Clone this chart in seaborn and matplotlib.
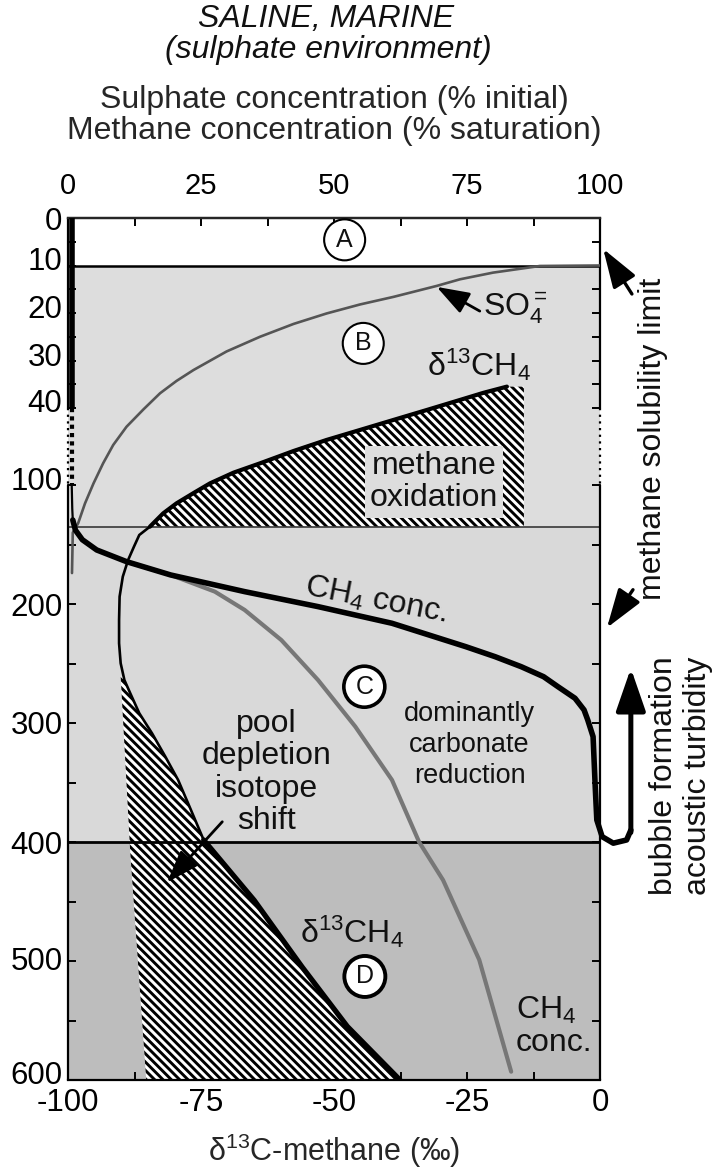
import numpy as np
import matplotlib
matplotlib.use("Agg")
import matplotlib.pyplot as plt
import matplotlib.transforms as mtransforms
import seaborn as sns

W, H = 715, 1169

# ---- depth axis: expanded 0-40 m, compressed 40-100 m, linear below ----
depth_knots = [0, 40, 100, 600]
scale_knots = [0, 190, 267, 862]

# ---- zones ----
zone_top = [0, 10, 135, 400]
zone_bottom = [10, 135, 400, 600]
zone_colors = ["#ffffff", "#dddddd", "#d9d9d9", "#bdbdbd"]
zone_names = ["A", "B", "C", "D"]
zone_name_conc = [52.0, 55.5, 55.7, 55.8]
zone_name_depth = [4.6, 26.4, 269.5, 513.0]
zone_ring_width = [1.5, 1.5, 2.6, 2.8]

# ---- sulphate (% initial) ----
so4_conc = [100, 94, 88.7, 79.9, 73.7, 69.3, 61.2, 54.9, 48.6, 42.4, 36.1, 29.8, 23.6,
            20.4, 17.3, 14.2, 11.0, 8.5, 6.6, 4.8, 3.2, 1.9, 0.9, 0.75]
so4_depth = [10, 10.05, 10.1, 11.5, 12.9, 14.3, 16.6, 18.2, 20.1, 22.3, 25.0, 28.1, 32.0,
             34.3, 36.9, 41.0, 54.6, 68.8, 83.1, 98.7, 115.4, 132.2, 140, 174]

# ---- methane concentration (% saturation), main profile ----
ch4_conc = [0.7, 0.7, 0.7, 0.8, 0.9, 1.4, 2.7, 5.4, 11.0, 19.3, 33.2, 47.0, 60.9, 74.8,
            80.3, 85.2, 89.4, 92.1, 95.3, 97.0, 97.7, 98.7, 99.1, 99.4, 100.4, 102.5,
            105.0, 105.8]
ch4_depth = [0, 40, 100, 120, 129.4, 138, 146, 154.6, 164.4, 175.6, 189.6, 202.2, 216.2,
             235.9, 244.3, 252.7, 261.1, 269.5, 279.2, 289, 297.5, 311.5, 353.5, 381.5,
             395.5, 401, 398.3, 390]
bubble_conc = [105.8, 105.8]
bubble_depth = [392, 254]

# ---- methane concentration, deep profile ----
ch4b_conc = [11.0, 19.3, 27.6, 33.2, 40.1, 47.0, 54.0, 60.9, 66.0, 70.5, 77.3, 83.3]
ch4b_depth = [164.4, 175.6, 189.6, 205, 230.3, 263.9, 303, 347.9, 400, 432, 499, 593]

# ---- delta13C of methane (permil) ----
d13_value = [-17.5, -21.9, -26.3, -32.6, -38.9, -45.1, -51.4, -57.6, -63.9, -68.9, -73.3,
             -76.3, -79.6, -82.1, -84.6, -86.6, -87.6, -88.7, -89.7, -90.3, -90.4, -90.4,
             -90.1, -89.4, -88.3, -86.6, -84.2, -81.7, -79.3, -76.9, -74.5, -65.0, -56.0,
             -47.5, -37.6]
d13_depth = [35.5, 36.8, 38.3, 41.6, 49.4, 57.1, 64.9, 73.5, 83.1, 90.4, 98.7,
             106.5, 115.4, 123.8, 135, 142, 151.8, 163, 177, 193.8, 213.4, 233,
             249.8, 263.9, 275, 291.8, 308.7, 328.3, 347.9, 373, 398.3, 449, 505,
             555, 600]

ox_right = -14.3                          # right edge of methane oxidation field
pool_left_value = [-90.1, -88.3, -85.3]   # left edge of pool-depletion field
pool_left_depth = [261, 409, 600]

top_ticks = [0, 25, 50, 75, 100]
bottom_ticks = [-100, -75, -50, -25, 0]
depth_ticks = [0, 10, 20, 30, 40, 100, 200, 300, 400, 500, 600]
depth_label_lift = [0, 7, 6, 6, 7, 7, 0, 0, 0, 2, 8]   # pixels
depth_minor = [5, 15, 25, 35, 150, 250, 350, 450, 550]


def fwd(d):
    d = np.asarray(d, dtype=float)
    s = np.interp(d, depth_knots, scale_knots)
    s = np.where(d > 600, 862 + (d - 600) * 1.19, s)
    return np.where(d < 0, d * 4.75, s)


def inv(s):
    s = np.asarray(s, dtype=float)
    d = np.interp(s, scale_knots, depth_knots)
    d = np.where(s > 862, 600 + (s - 862) / 1.19, d)
    return np.where(s < 0, s / 4.75, d)


sns.set_theme(style="white")
plt.rcParams["font.family"] = ["Liberation Sans", "DejaVu Sans"]
plt.rcParams["mathtext.fontset"] = "custom"
plt.rcParams["mathtext.rm"] = "Liberation Sans"
plt.rcParams["mathtext.it"] = "Liberation Sans:italic"
plt.rcParams["mathtext.bf"] = "Liberation Sans:bold"
plt.rcParams["mathtext.default"] = "regular"
plt.rcParams["hatch.linewidth"] = 2.1
plt.rcParams["text.color"] = "#111111"


def fx(px):
    return px / W


def fy(py):
    return 1 - py / H


fig = plt.figure(figsize=(W / 100, H / 100), dpi=100)
ax = fig.add_axes([fx(68), fy(1080), (600 - 68) / W, (1080 - 218) / H])
ax.set_yscale("function", functions=(fwd, inv))
ax.set_ylim(600, 0)
ax.set_xlim(-100, 0)

# zone shading
for t, b, c in zip(zone_top, zone_bottom, zone_colors):
    ax.axhspan(t, b, color=c, lw=0, zorder=0)

# hatched fields
hatch = "\\" * 4
dv = np.array(d13_value)
dd = np.array(d13_depth)
upper = dd <= 135
ox_x = list(dv[upper][::-1]) + [ox_right, ox_right]
ox_y = list(dd[upper][::-1]) + [dd[0], 135]
ax.fill(ox_x, ox_y, facecolor="white", edgecolor="black", hatch=hatch, lw=0, zorder=1)

start = np.interp(pool_left_depth[0], dd, dv)
lower = dd > pool_left_depth[0]
pool_x = [start] + list(dv[lower]) + pool_left_value[::-1]
pool_y = [pool_left_depth[0]] + list(dd[lower]) + pool_left_depth[::-1]
ax.fill(pool_x, pool_y, facecolor="white", edgecolor="black", hatch=hatch, lw=0, zorder=1)

# zone boundaries
ax.axhline(10, color="black", lw=1.8, zorder=2)
ax.axhline(135, color="#2a2a2a", lw=1.1, zorder=2)
ax.axhline(400, color="black", lw=2.0, zorder=2)

# delta13C methane profile
sns.lineplot(x=d13_value, y=d13_depth, sort=False, estimator=None, color="black",
             lw=1.9, ax=ax, zorder=3)
sns.lineplot(x=dv[dd <= 135], y=dd[dd <= 135], sort=False, estimator=None,
             color="black", lw=3.0, ax=ax, zorder=3)
sns.lineplot(x=dv[dd >= 398], y=dd[dd >= 398], sort=False, estimator=None,
             color="black", lw=3.8, ax=ax, zorder=3)
for line in ax.lines:
    line.set_solid_joinstyle("round")

# axes frame with dotted break between 40 and 100 m
for side in ["left", "right"]:
    ax.spines[side].set_visible(False)
for side in ["top", "bottom"]:
    ax.spines[side].set_linewidth(1.6)
    ax.spines[side].set_color("black")
ytr = ax.get_yaxis_transform()
for xa in (0, 1):
    ax.plot([xa, xa], [0, 40], transform=ytr, color="black", lw=1.6, clip_on=False, zorder=5)
    ax.plot([xa, xa], [40, 100], transform=ytr, color="black", lw=1.6, ls=(0, (1, 2)),
            clip_on=False, zorder=5)
    ax.plot([xa, xa], [100, 600], transform=ytr, color="black", lw=1.6, clip_on=False, zorder=5)

ax.set_xticks(bottom_ticks)
ax.set_xticklabels([str(v) for v in bottom_ticks])
ax.set_xticks([v + 12.5 for v in bottom_ticks[:-1]], minor=True)
ax.set_yticks(depth_ticks)
ax.set_yticklabels([str(v) for v in depth_ticks])
ax.set_yticks(depth_minor, minor=True)
ax.yaxis.set_minor_formatter(matplotlib.ticker.NullFormatter())
ax.tick_params(axis="x", which="both", direction="in", bottom=True, top=False,
               length=6, width=1.4, labelsize=22.5, pad=6, colors="black")
ax.tick_params(axis="y", which="both", direction="in", left=True, right=True,
               labelleft=True, labelright=False, length=6, width=1.4,
               labelsize=22.5, pad=4, colors="black")
for lbl, up in zip(ax.get_yticklabels(), depth_label_lift):
    lift = mtransforms.ScaledTranslation(0, up / 100, fig.dpi_scale_trans)
    lbl.set_transform(lbl.get_transform() + lift)
ax.set_xlabel("δ$^{13}$C-methane (‰)", fontsize=22, labelpad=9.5)
ax.set_ylabel("")

# concentration axis on top
ax2 = ax.twiny()
ax2.set_xlim(0, 100)
for side in ["left", "right", "bottom"]:
    ax2.spines[side].set_visible(False)
ax2.spines["top"].set_linewidth(1.6)

sns.lineplot(x=so4_conc, y=so4_depth, sort=False, estimator=None, color="#555555",
             lw=1.9, ax=ax2, zorder=3)
sns.lineplot(x=ch4b_conc, y=ch4b_depth, sort=False, estimator=None, color="#777777",
             lw=3.0, ax=ax2, zorder=3)
cc = np.array(ch4_conc)
cd = np.array(ch4_depth)
ax2.plot(cc[:2], cd[:2], color="black", lw=4.0, solid_capstyle="butt", zorder=4)
ax2.plot(cc[1:3], cd[1:3], color="black", lw=3.0, ls=(0, (1, 1)), zorder=4)
ax2.plot(cc[2:5], cd[2:5], color="black", lw=1.6, zorder=4)
sns.lineplot(x=cc[4:], y=cd[4:], sort=False, estimator=None, color="black", lw=4.0,
             ax=ax2, zorder=4)
ax2.lines[-1].set_clip_on(False)
for line in ax2.lines:
    line.set_solid_joinstyle("round")
ax2.annotate("", xy=(bubble_conc[1], bubble_depth[1]), xytext=(bubble_conc[0], bubble_depth[0]),
             arrowprops=dict(arrowstyle="-|>,head_length=1.3,head_width=0.45", color="black",
                             lw=3.6, mutation_scale=20, shrinkA=0, shrinkB=0),
             annotation_clip=False)
ax2.set_ylim(600, 0)

ax2.set_xticks(top_ticks)
ax2.set_xticklabels([str(v) for v in top_ticks])
ax2.set_xticks([v + 12.5 for v in top_ticks[:-1]], minor=True)
ax2.tick_params(axis="x", which="both", direction="in", top=True, bottom=False,
                length=6, width=1.4, labelsize=21, pad=13, colors="black")
ax2.set_xlabel("Sulphate concentration (% initial)\nMethane concentration (% saturation)",
               fontsize=23, labelpad=23.5, linespacing=1.05)

# zone letters
for n, xc, yc, rw in zip(zone_names, zone_name_conc, zone_name_depth, zone_ring_width):
    ax2.text(xc, yc, n, fontsize=18, ha="center", va="center", zorder=6,
             bbox=dict(boxstyle="circle,pad=0.34", fc="white", ec="black", lw=rw))

# labels inside the plot
lab = dict(fontsize=23, ha="center", va="center", zorder=6)
small_arrow = dict(arrowstyle="-|>,head_length=1.0,head_width=0.35", color="black",
                   lw=2.0, mutation_scale=20, shrinkA=0, shrinkB=0)
ax2.text(78.0, 18.9, "SO$_4^{=}$", fontsize=23, ha="left", va="center", zorder=6)
ax2.annotate("", xy=(69.3, 14.5), xytext=(77.4, 19.6), arrowprops=small_arrow)
ax2.text(77.3, 30.9, "δ$^{13}$CH$_4$", **lab)
ax2.text(68.8, 97.5, "methane\noxidation", linespacing=1.1,
         bbox=dict(boxstyle="square,pad=0.15", fc=zone_colors[1], ec="none"), **lab)
ax2.text(57.9, 197, "CH$_4$ conc.", rotation=-11, rotation_mode="anchor", **lab)
ax2.text(75.5, 318.5, "dominantly\ncarbonate\nreduction", fontsize=19.5, ha="center",
         va="center", linespacing=1.24, zorder=6)
ax2.text(37.3, 341.6, "pool\ndepletion\nisotope\nshift", linespacing=1.1, **lab)
ax.annotate("", xy=(-81.4, 434), xytext=(-71.0, 383), arrowprops=small_arrow, zorder=6)
ax2.text(53.4, 475.6, "δ$^{13}$CH$_4$", **lab)
ax2.text(84.2, 555, "CH$_4$\nconc.", fontsize=23, ha="left", va="center",
         linespacing=1.1, zorder=6)

# solubility-limit arrows and side labels
arrow_kw = dict(arrowstyle="-|>,head_length=1.2,head_width=0.4", color="black",
                lw=2.4, mutation_scale=20, shrinkA=0, shrinkB=0)
ax2.annotate("", xy=(100.6, 6.5), xytext=(106.0, 16.0), arrowprops=arrow_kw,
             annotation_clip=False)
ax2.annotate("", xy=(101.3, 220), xytext=(106.2, 188), arrowprops=arrow_kw,
             annotation_clip=False)
fig.text(fx(653), fy(439), "methane solubility limit", rotation=90, fontsize=23,
         ha="center", va="center")
fig.text(fx(681), fy(776), "bubble formation\nacoustic turbidity", rotation=90,
         fontsize=23, ha="center", va="center", linespacing=1.2)

fig.text(fx(326), fy(19), "SALINE, MARINE", fontsize=23, style="italic",
         ha="center", va="center")
fig.text(fx(328), fy(50), "(sulphate environment)", fontsize=23, style="italic",
         ha="center", va="center")

fig.savefig("out.png", dpi=100, facecolor="white")
